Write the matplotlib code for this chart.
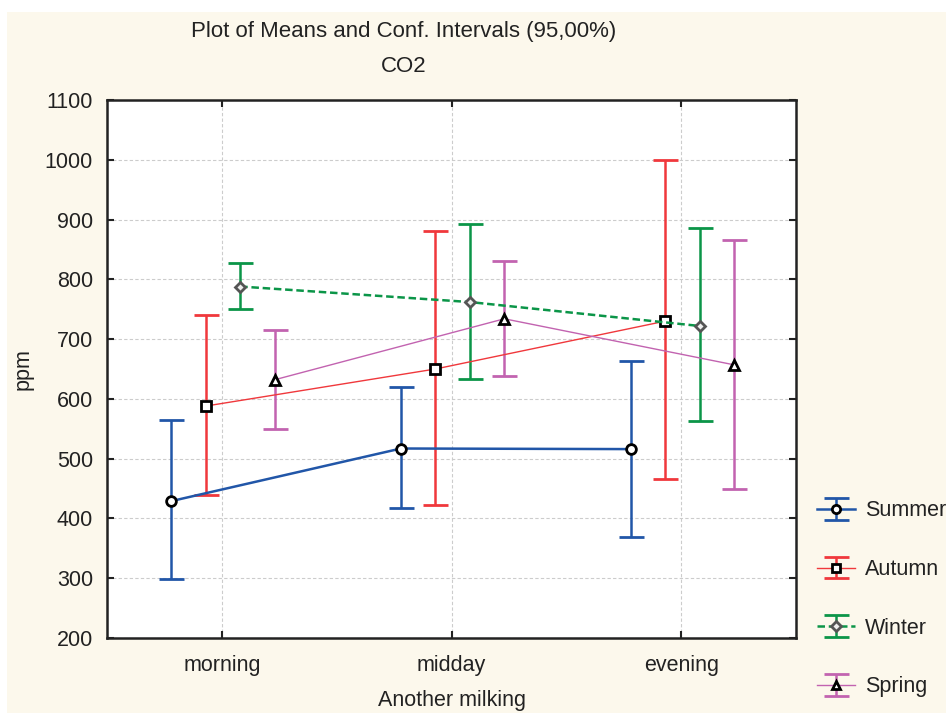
import numpy as np
import matplotlib.pyplot as plt
from matplotlib.patches import Rectangle

plt.rcParams['font.family'] = ['Liberation Sans', 'DejaVu Sans']

categories = ['morning', 'midday', 'evening']
seasons = ['Summer', 'Autumn', 'Winter', 'Spring']

# means and 95% confidence limits
summer_mean = [429, 517, 516]
summer_low = [299, 418, 369]
summer_high = [565, 620, 663]

autumn_mean = [588, 650, 730]
autumn_low = [439, 423, 466]
autumn_high = [740, 881, 1000]

winter_mean = [788, 762, 722]
winter_low = [750, 633, 563]
winter_high = [827, 893, 886]

spring_mean = [632, 734, 657]
spring_low = [550, 638, 449]
spring_high = [715, 831, 866]

means = [summer_mean, autumn_mean, winter_mean, spring_mean]
lows = [summer_low, autumn_low, winter_low, spring_low]
highs = [summer_high, autumn_high, winter_high, spring_high]

colors = ['#2156a8', '#f0383c', '#0b9548', '#c263b0']
markers = ['o', 's', 'D', '^']
marker_sizes = [7, 7.5, 5.5, 6.5]
marker_edges = ['black', 'black', '#555555', 'black']
marker_faces = ['white', 'white', '#eeeeee', 'white']
line_widths = [1.8, 1.0, 1.8, 1.0]
line_styles = ['-', '-', (0, (3, 1.5)), '-']
offsets = [-0.22, -0.07, 0.08, 0.23]

fs = 15.5

fig = plt.figure(figsize=(9.46, 7.13), dpi=100, facecolor='white')
fig.patches.append(Rectangle((7 / 946, 0), 1, (713 - 12) / 713,
                             transform=fig.transFigure, facecolor='#fcf8ec',
                             edgecolor='none', zorder=-10))

ax = fig.add_axes([107 / 946, 1 - 638 / 713, (796 - 107) / 946, (638 - 100) / 713])
ax.set_facecolor('white')

x = np.arange(len(categories))
handles = []
for i, name in enumerate(seasons):
    m = np.array(means[i])
    err = [m - np.array(lows[i]), np.array(highs[i]) - m]
    h = ax.errorbar(x + offsets[i], m, yerr=err, color=colors[i],
                    linestyle=line_styles[i], linewidth=line_widths[i],
                    elinewidth=1.8, capsize=9, capthick=2.2,
                    marker=markers[i], markersize=marker_sizes[i],
                    markerfacecolor=marker_faces[i], markeredgecolor=marker_edges[i],
                    markeredgewidth=2.0, label=name, zorder=3)
    handles.append(h)

ax.set_xlim(-0.5, 2.5)
ax.set_ylim(200, 1100)
ax.set_yticks(np.arange(200, 1101, 100))
ax.set_xticks(x)
ax.set_xticklabels(categories)
ax.tick_params(axis='both', direction='in', length=5, width=1.5, labelsize=fs,
               colors='#222222', top=True, right=True)
ax.tick_params(axis='x', pad=12)
ax.tick_params(axis='y', pad=10)
ax.grid(True, color='#cccccc', linestyle=(0, (3, 2)), linewidth=0.8)
for s in ax.spines.values():
    s.set_linewidth(1.8)
    s.set_color('#222222')

ax.set_xlabel('Another milking', fontsize=fs, color='#222222', labelpad=10)
ax.set_ylabel('ppm', fontsize=fs, color='#222222', labelpad=8)

fig.text(404 / 946, 1 - 31 / 713, 'Plot of Means and Conf. Intervals (95,00%)',
         ha='center', va='center', fontsize=16, color='#222222')
fig.text(404 / 946, 1 - 67 / 713, 'CO2', ha='center', va='center',
         fontsize=16, color='#222222')

fig.legend(handles=handles, labels=seasons, loc='upper left',
           bbox_to_anchor=(798 / 946, 1 - 481 / 713), frameon=False,
           fontsize=fs, labelspacing=1.75, handlelength=1.75, handletextpad=0.45,
           labelcolor='#222222', markerscale=0.85)

fig.savefig('out.png', dpi=100)
